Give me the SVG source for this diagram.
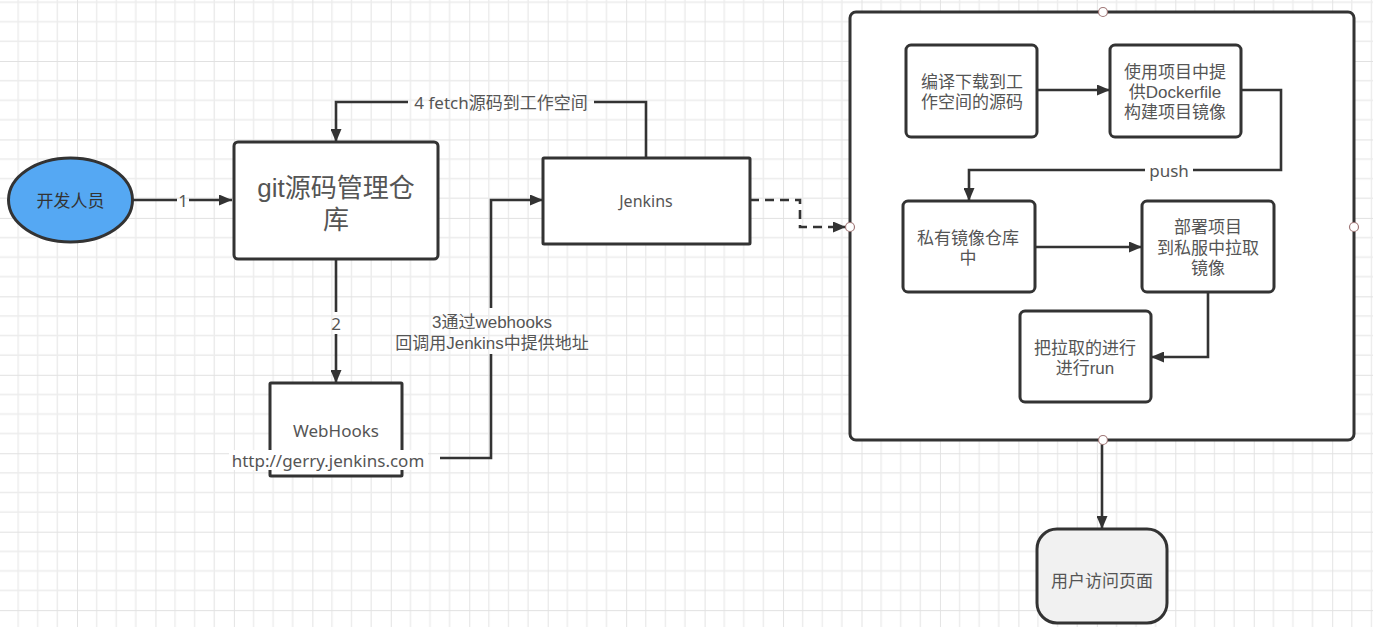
<svg xmlns="http://www.w3.org/2000/svg" width="1373" height="627" viewBox="0 0 1373 627">
<style>
.n{fill:#fff;stroke:#333;stroke-width:3}
.e{fill:none;stroke:#333;stroke-width:2.6}
.t{font-family:"Noto Sans","Noto Sans CJK SC",sans-serif;font-size:17px;fill:#555;text-anchor:middle;dominant-baseline:central}
.m{font-family:"Liberation Sans","Noto Sans CJK SC",sans-serif}
.p{fill:#fff;stroke:#a07878;stroke-width:1.2}
</style>
<defs>
<pattern id="grid" width="78.45" height="78.45" patternUnits="userSpaceOnUse" patternTransform="translate(77,61)">
<path d="M19.61,0V78.45M39.22,0V78.45M58.84,0V78.45M0,19.61H78.45M0,39.22H78.45M0,58.84H78.45" stroke="#ececec" stroke-width="1.4" fill="none"/>
<path d="M0,0V78.45M0,0H78.45" stroke="#e1e1e1" stroke-width="1.8" fill="none"/>
</pattern>
<marker id="a" markerUnits="userSpaceOnUse" markerWidth="13" markerHeight="11" refX="13" refY="5.5" orient="auto">
<path d="M0,0L13,5.5L0,11z" fill="#333"/>
</marker>
</defs>
<rect width="1373" height="627" fill="#fff"/>
<rect width="1373" height="627" fill="url(#grid)"/>

<g id="container">
<rect class="n" x="850" y="12" width="504" height="428" rx="6"/>
</g>

<g id="connectors">
<path class="e" d="M133,200H177M189,200H232" marker-end="url(#a)"/>
<text class="t" x="183" y="200">1</text>
<path class="e" d="M646,158V102H594M408,102H336V142" marker-end="url(#a)"/>
<text class="t" x="501" y="102">4 fetch源码到工作空间</text>
<path class="e" d="M336,259V312M336,334V383" marker-end="url(#a)"/>
<text class="t" x="336" y="323">2</text>
<path class="e" d="M440,458H491V354M491,308V200H543" marker-end="url(#a)"/>
<text class="t m"><tspan x="492" y="322">3通过webhooks</tspan><tspan x="492" y="343">回调用Jenkins中提供地址</tspan></text>
<path class="e" d="M750,200H800V227H846" stroke-dasharray="9 6" marker-end="url(#a)"/>
<path class="e" d="M1037,90H1110" marker-end="url(#a)"/>
<path class="e" d="M1241,90H1281V170H1193M1145,170H969V201" marker-end="url(#a)"/>
<text class="t" x="1169" y="170">push</text>
<path class="e" d="M1035,247H1142" marker-end="url(#a)"/>
<path class="e" d="M1208,292V357H1151" marker-end="url(#a)"/>
<path class="e" d="M1102,440V529" marker-end="url(#a)"/>
</g>

<g id="ports">
<circle class="p" cx="1103" cy="12" r="4.5"/>
<circle class="p" cx="850" cy="227" r="4.5"/>
<circle class="p" cx="1354" cy="227" r="4.5"/>
<circle class="p" cx="1103" cy="440" r="4.5"/>
</g>

<g id="dev">
<ellipse cx="70.5" cy="200" rx="62" ry="42" fill="#55a8f3" stroke="#333" stroke-width="3"/>
<text class="t" x="70.5" y="200" style="fill:#333">开发人员</text>
</g>
<g id="git">
<rect class="n" x="234" y="142" width="204" height="117" rx="4"/>
<text class="t m" style="font-size:26px"><tspan x="336" y="188">git源码管理仓</tspan><tspan x="336" y="220">库</tspan></text>
</g>
<g id="jenkins">
<rect class="n" x="543" y="158" width="207" height="86" rx="1"/>
<text class="t" x="646" y="201" style="font-size:16px">Jenkins</text>
</g>
<g id="webhooks">
<rect class="n" x="270" y="383" width="132" height="93" rx="1"/>
<text class="t" x="336" y="430">WebHooks</text>
<rect x="229" y="450" width="199" height="20" fill="#fff"/>
<text class="t" x="328" y="460">http://gerry.jenkins.com</text>
</g>
<g id="compile">
<rect class="n" x="906" y="45" width="131" height="92" rx="5"/>
<text class="t m"><tspan x="972" y="82">编译下载到工</tspan><tspan x="972" y="102">作空间的源码</tspan></text>
</g>
<g id="build">
<rect class="n" x="1110" y="45" width="131" height="92" rx="5"/>
<text class="t m"><tspan x="1175" y="72">使用项目中提</tspan><tspan x="1175" y="92">供Dockerfile</tspan><tspan x="1175" y="112">构建项目镜像</tspan></text>
</g>
<g id="registry">
<rect class="n" x="903" y="201" width="132" height="91" rx="5"/>
<text class="t m"><tspan x="968" y="238">私有镜像仓库</tspan><tspan x="968" y="258">中</tspan></text>
</g>
<g id="deploy">
<rect class="n" x="1142" y="201" width="132" height="91" rx="5"/>
<text class="t m"><tspan x="1208" y="227">部署项目</tspan><tspan x="1208" y="248">到私服中拉取</tspan><tspan x="1208" y="268">镜像</tspan></text>
</g>
<g id="run">
<rect class="n" x="1020" y="311" width="131" height="91" rx="5"/>
<text class="t m"><tspan x="1085" y="348">把拉取的进行</tspan><tspan x="1085" y="368">进行run</tspan></text>
</g>
<g id="user">
<rect x="1037" y="529" width="130" height="94" rx="20" fill="#f1f1f1" stroke="#333" stroke-width="3"/>
<text class="t" x="1102" y="580">用户访问页面</text>
</g>
</svg>
